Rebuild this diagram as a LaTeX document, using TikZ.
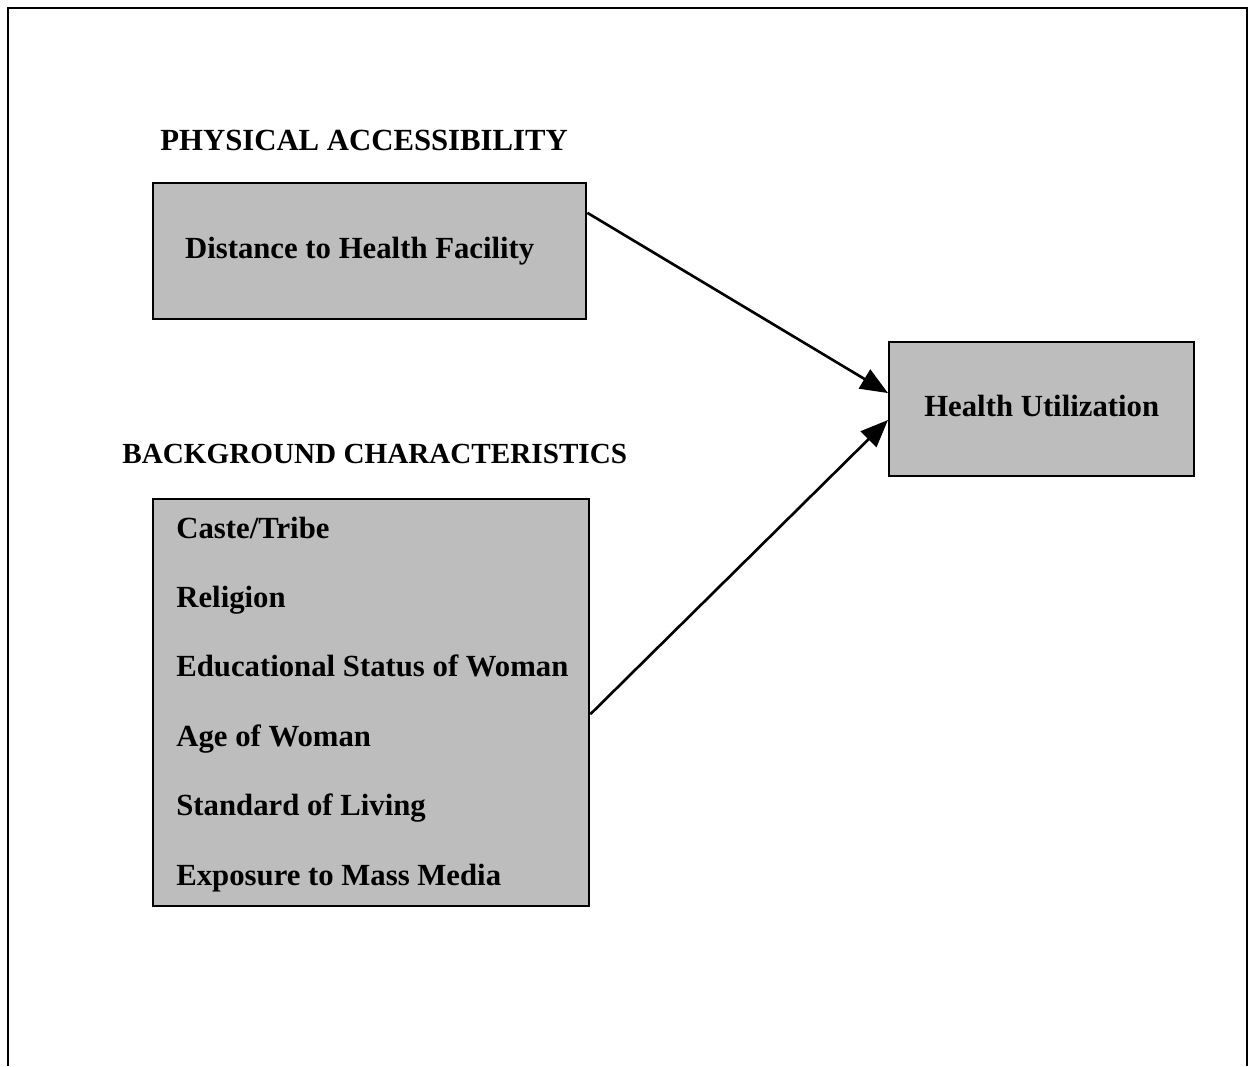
\documentclass[tikz,border=0pt]{standalone}
\usepackage{fontspec}
\setmainfont{Liberation Serif}
\usetikzlibrary{arrows.meta}

\tikzset{
  factor/.style={draw, line width=1.4pt, fill=black!26, inner sep=0pt,
    font=\bfseries\fontsize{17.5}{20}\selectfont},
  heading/.style={anchor=base west, inner sep=0pt,
    font=\bfseries\fontsize{17.5}{20}\selectfont},
  item/.style={anchor=base west, inner sep=0pt,
    font=\bfseries\fontsize{17.5}{20}\selectfont},
  link/.style={line width=1.5pt, -{Triangle[length=5.5mm,width=4.4mm]}}
}

\begin{document}
\begin{tikzpicture}[x=0.02cm, y=-0.02cm]
    \useasboundingbox (0,0) rectangle (1256,1066);
    % frame around the page
    \draw[line width=1.3pt] (8,1066) |- (1247,8) -- (1247,1066);

    % headings
    \node[heading] (phys) at (160,150) {PHYSICAL ACCESSIBILITY};
    \node[heading, font=\bfseries\fontsize{16.6}{20}\selectfont]
        (backg) at (122,463) {BACKGROUND CHARACTERISTICS};

    % boxes
    \node[factor, anchor=north west, minimum width=8.66cm, minimum height=2.72cm]
        (dist) at (152,182) {Distance to Health Facility\hspace{0.4cm}\mbox{}};
    \node[factor, anchor=north west, minimum width=6.1cm, minimum height=2.68cm]
        (util) at (888,341) {\raisebox{0.12cm}{Health Utilization}};
    \node[factor, anchor=north west, minimum width=8.72cm, minimum height=8.14cm]
        (bg) at (152,498) {};

    % background variables
    \foreach \txt [count=\i] in {Caste/Tribe, Religion, Educational Status of Woman,
        Age of Woman, Standard of Living, Exposure to Mass Media}
        \node[item] (var\i) at ({176},{538+69.4*(\i-1)}) {\txt};

    \draw[link] (dist.10) -- (util.174);
    \draw[link] (bg.-3) -- (util.184);
\end{tikzpicture}
\end{document}
